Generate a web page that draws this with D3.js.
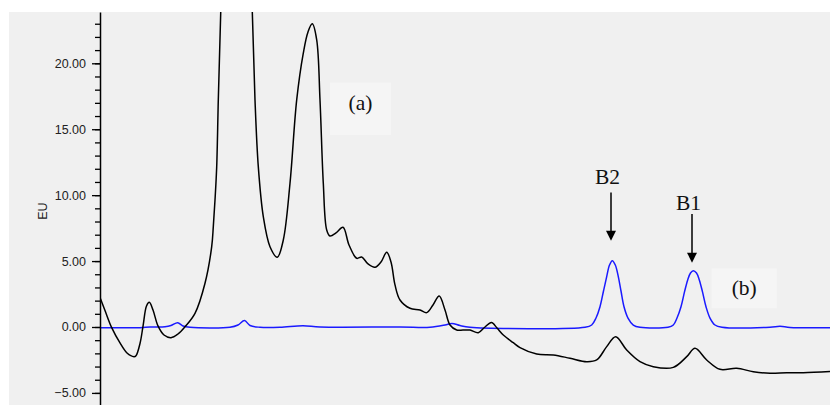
<!DOCTYPE html>
<html>
<head>
<meta charset="utf-8">
<script src="https://cdn.jsdelivr.net/npm/d3@7"></script>
<style>
  body { margin: 0; background: #fff; }
  svg { display: block; }
  .tick text { font-family: "Liberation Sans", Arial, sans-serif; font-size: 12.5px; fill: #222; }
  .note { font-family: "Liberation Serif", "Times New Roman", serif; font-size: 21.5px; fill: #111; }
</style>
</head>
<body>
<svg id="chart" width="830" height="405"></svg>
<script>
// retention time (min) / response (EU)
const blackTime = [
  0, 0.25, 0.585, 1.0, 1.35, 1.7, 1.8, 2.0, 2.15, 2.325, 2.465, 2.65, 2.9, 3.2, 3.55, 3.9, 4.25,
  4.75, 5.25, 5.585, 5.665, 5.75, 5.835, 5.915, 6.035, 6.15, 6.8, 7.5, 7.615, 7.75, 7.915, 8.165, 8.5,
  8.865, 9.165, 9.5, 9.835, 10.165, 10.4, 10.615, 10.835, 11.0, 11.165, 11.335, 11.5, 11.8,
  12.15, 12.45, 12.835, 13.085, 13.4, 13.75, 14.05, 14.335, 14.55, 14.75, 15.0, 15.5, 16.0,
  16.335, 16.65, 16.96, 17.25, 17.5, 17.835, 18.15, 18.5, 18.915, 19.25, 19.575, 19.85,
  20.165, 20.665, 21.0, 21.835, 22.665, 23.5, 24.335, 24.835, 25.335, 25.785, 26.335, 27.0,
  27.665, 28.665, 29.335, 29.75, 30.335, 31.0, 31.835, 32.665, 33.5, 34.335, 35.165, 36.5
];
const blackEU = [
  2.24, 1.25, -0.05, -1.21, -1.97, -2.25, -2.18, -1.25, 0.05, 1.59, 1.87, 1.29, 0.08, -0.61, -0.81, -0.53, 0.02,
  1.04, 3.32, 6.09, 7.61, 9.63, 12.16, 17.22, 23.8, 32, 48, 32, 23.9, 17.22, 12.16, 8.37, 6.09,
  5.29, 6.6, 10.9, 17.22, 20.77, 22.38, 22.99, 21.78, 17.22, 10.9, 7.36, 6.9, 7.13,
  7.56, 6.22, 5.21, 5.31, 4.78, 4.53, 4.93, 5.67, 4.93, 3.19, 2.05, 1.42, 1.29,
  1.09, 1.67, 2.35, 1.29, 0.15, -0.23, -0.23, -0.23, -0.43, 0.0, 0.34, -0.08,
  -0.61, -1.19, -1.56, -2.05, -2.12, -2.37, -2.63, -2.5, -1.49, -0.74, -1.75, -2.63,
  -3.01, -3.06, -2.25, -1.62, -2.5, -3.21, -3.13, -3.39, -3.51, -3.47, -3.47, -3.38
];

const blueTime = [
  0, 2.0, 2.5, 3.25, 3.55, 3.885, 4.15, 4.5, 6.5, 6.9, 7.225, 7.5, 8.0, 9.0, 10.15, 11.0,
  15.0, 16.5, 17.25, 17.6, 18.0, 18.5, 24.25, 24.585, 24.8, 25.0, 25.175, 25.335, 25.475,
  25.615, 25.765, 25.915, 26.05, 26.2, 26.4, 26.665, 27.0, 28.4, 28.665, 28.85, 29.05,
  29.225, 29.385, 29.525, 29.665, 29.825, 29.965, 30.125, 30.3, 30.5, 30.75, 31.1, 33.5,
  34.0, 34.5, 36.5
];
const blueEU = [
  -0.05, -0.05, 0.0, 0.02, 0.11, 0.33, 0.08, -0.02, -0.02, 0.15, 0.49, 0.11, -0.02, -0.02, 0.1, 0.0,
  0.0, -0.02, 0.15, 0.27, 0.11, -0.02, -0.02, 0.15, 0.68, 1.54, 2.73, 3.82, 4.7,
  5.03, 4.7, 3.82, 2.73, 1.54, 0.68, 0.15, -0.02, -0.02, 0.15, 0.68, 1.54,
  2.66, 3.57, 4.1, 4.27, 4.1, 3.57, 2.66, 1.54, 0.68, 0.15, -0.02, -0.02,
  0.05, -0.03, -0.05
];

const majorTicks = [-5, 0, 5, 10, 15, 20];
const minorTicks = d3.range(-5, 24, 1);

// peak labels: name, time, label baseline, arrow start, arrow tip (EU)
const peakNames = ['B2', 'B1'];
const peakTime = [25.55, 29.6];
const peakLabelEU = [10.85, 8.88];
const arrowFromEU = [10.2, 8.57];
const arrowToEU = [6.55, 4.88];

// trace labels: text, box corners (time, EU)
const traceNames = ['(a)', '(b)'];
const traceBoxT = [[11.5, 14.55], [30.58, 33.84]];
const traceBoxEU = [[18.54, 14.57], [4.45, 1.42]];

const width = 830, height = 405;
const plot = { left: 100, top: 12, right: 830, bottom: 405 };

const svg = d3.select('#chart');

svg.append('rect')
  .attr('x', 9).attr('y', plot.top)
  .attr('width', width - 9).attr('height', height - plot.top)
  .attr('fill', '#f0f0f0');

const x = d3.scaleLinear().domain([0, 36.5]).range([plot.left, plot.right]);
const y = d3.scaleLinear().domain([-5.916, 23.89]).range([plot.bottom, plot.top]);

svg.append('defs')
  .append('clipPath').attr('id', 'clip')
  .append('rect')
    .attr('x', plot.left).attr('y', plot.top)
    .attr('width', plot.right - plot.left).attr('height', plot.bottom - plot.top);

// trace label boxes
traceNames.forEach((name, i) => {
  const [t0, t1] = traceBoxT[i];
  const [v0, v1] = traceBoxEU[i];
  svg.append('rect')
    .attr('x', x(t0)).attr('y', y(v0))
    .attr('width', x(t1) - x(t0)).attr('height', y(v1) - y(v0))
    .attr('fill', '#f5f5f5');
  svg.append('text')
    .attr('class', 'note')
    .attr('x', (x(t0) + x(t1)) / 2)
    .attr('y', y(v0) + 27)
    .attr('text-anchor', 'middle')
    .text(name);
});

const line = d3.line()
  .x(d => x(d[0]))
  .y(d => y(d[1]))
  .curve(d3.curveCatmullRom.alpha(0.5));

const traces = svg.append('g').attr('clip-path', 'url(#clip)');

traces.append('path')
  .datum(d3.zip(blueTime, blueEU))
  .attr('fill', 'none')
  .attr('stroke', '#1a1aff')
  .attr('stroke-width', 1.5)
  .attr('d', line);

traces.append('path')
  .datum(d3.zip(blackTime, blackEU))
  .attr('fill', 'none')
  .attr('stroke', '#000')
  .attr('stroke-width', 1.5)
  .attr('d', line);

// axis
svg.append('g')
  .attr('transform', `translate(${plot.left},0)`)
  .call(d3.axisLeft(y).tickValues(minorTicks).tickSize(5).tickSizeOuter(0).tickFormat(''))
  .call(g => g.select('.domain').remove())
  .call(g => g.selectAll('line').attr('stroke', '#000').attr('stroke-width', 1.3));

svg.append('g')
  .attr('transform', `translate(${plot.left},0)`)
  .call(d3.axisLeft(y).tickValues(majorTicks).tickSize(8).tickPadding(6).tickSizeOuter(0).tickFormat(d3.format('.2f')))
  .call(g => g.select('.domain').attr('stroke', '#000').attr('stroke-width', 1.5))
  .call(g => g.selectAll('line').attr('stroke', '#000').attr('stroke-width', 1.3));

svg.append('text')
  .attr('transform', `translate(47,${(y(5) + y(10)) / 2 - 17}) rotate(-90)`)
  .attr('text-anchor', 'middle')
  .style('font-family', '"Liberation Sans", Arial, sans-serif')
  .style('font-size', '12.5px')
  .attr('fill', '#222')
  .text('EU');

// peak arrows
peakNames.forEach((name, i) => {
  const px = x(peakTime[i]);
  const tip = y(arrowToEU[i]);
  svg.append('text')
    .attr('class', 'note')
    .attr('x', px - 3.5)
    .attr('y', y(peakLabelEU[i]))
    .attr('text-anchor', 'middle')
    .text(name);
  svg.append('line')
    .attr('x1', px).attr('x2', px)
    .attr('y1', y(arrowFromEU[i])).attr('y2', tip - 8)
    .attr('stroke', '#000').attr('stroke-width', 1.5);
  svg.append('path')
    .attr('d', `M${px - 5},${tip - 10}L${px + 5},${tip - 10}L${px},${tip}Z`)
    .attr('fill', '#000');
});
</script>
</body>
</html>
